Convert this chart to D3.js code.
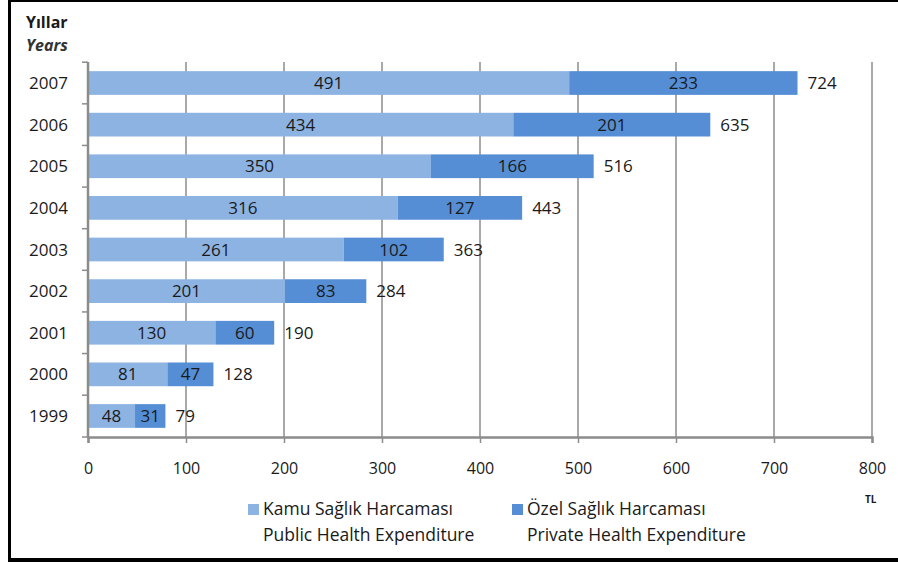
<!DOCTYPE html>
<html>
<head>
<meta charset="utf-8">
<script src="https://cdn.jsdelivr.net/npm/d3@7"></script>
<style>
  body { margin: 0; background: #fff; }
  svg { display: block; }
</style>
</head>
<body>
<svg id="chart" width="898" height="562"></svg>
<script>
// data
var years = ["2007", "2006", "2005", "2004", "2003", "2002", "2001", "2000", "1999"];
var publicExp = [491, 434, 350, 316, 261, 201, 130, 81, 48];
var privateExp = [233, 201, 166, 127, 102, 83, 60, 47, 31];
var totals = [724, 635, 516, 443, 363, 284, 190, 128, 79];
var xTicks = [0, 100, 200, 300, 400, 500, 600, 700, 800];
var seriesNames = [["Kamu Sağlık Harcaması", "Public Health Expenditure"],
                   ["Özel Sağlık Harcaması", "Private Health Expenditure"]];
var seriesColors = ["#8db3e2", "#558ed5"];

var font = "'Open Sans', 'Noto Sans', sans-serif";
var fs = 17;
var ink = "#1a1a1a";
var svg = d3.select("#chart");

// frame (left, top, bottom lines)
svg.append("rect").attr("x", 8).attr("y", 0).attr("width", 3).attr("height", 562).attr("fill", "#000");
svg.append("rect").attr("x", 8).attr("y", 0).attr("width", 890).attr("height", 2).attr("fill", "#000");
svg.append("rect").attr("x", 8).attr("y", 558).attr("width", 890).attr("height", 4).attr("fill", "#000");

var x = d3.scaleLinear().domain([0, 800]).range([88, 872]);
var y = d3.scaleBand().domain(years).range([62, 437]).paddingInner(0.43).paddingOuter(0.22);

// grid lines
svg.append("g").selectAll("line").data(xTicks.slice(1)).enter().append("line")
  .attr("x1", function(d) { return x(d); }).attr("x2", function(d) { return x(d); })
  .attr("y1", 62).attr("y2", 437)
  .attr("stroke", "#8c8c8c").attr("stroke-width", 1.5);

// bars
var rows = years.map(function(yr, i) {
  return { year: yr, pub: publicExp[i], priv: privateExp[i], total: totals[i] };
});
var g = svg.append("g").selectAll("g").data(rows).enter().append("g");
g.append("rect")
  .attr("x", x(0)).attr("y", function(d) { return y(d.year); })
  .attr("width", function(d) { return x(d.pub) - x(0); })
  .attr("height", y.bandwidth()).attr("fill", seriesColors[0]);
g.append("rect")
  .attr("x", function(d) { return x(d.pub); }).attr("y", function(d) { return y(d.year); })
  .attr("width", function(d) { return x(d.pub + d.priv) - x(d.pub); })
  .attr("height", y.bandwidth()).attr("fill", seriesColors[1]);

function label(sel, xf, txt, anchor) {
  sel.append("text")
    .attr("x", xf).attr("y", function(d) { return y(d.year) + y.bandwidth() / 2; })
    .attr("dy", "0.36em").attr("text-anchor", anchor)
    .attr("font-family", font).attr("font-size", fs).attr("fill", ink)
    .text(txt);
}
label(g, function(d) { return (x(0) + x(d.pub)) / 2; }, function(d) { return d.pub; }, "middle");
label(g, function(d) { return (x(d.pub) + x(d.pub + d.priv)) / 2; }, function(d) { return d.priv; }, "middle");
label(g, function(d) { return x(d.pub + d.priv) + 10; }, function(d) { return d.total; }, "start");

// y axis
var yAxis = svg.append("g").attr("transform", "translate(88,0)");
yAxis.append("line").attr("x1", 0).attr("x2", 0).attr("y1", 62).attr("y2", 437)
  .attr("stroke", "#8c8c8c").attr("stroke-width", 2.5);
var bounds = years.map(function(d) { return y(d) - y.step() * y.paddingInner() / 2; }).concat([437]);
yAxis.selectAll("line.tk").data(bounds).enter().append("line").attr("class", "tk")
  .attr("x1", -6).attr("x2", 0)
  .attr("y1", function(d) { return d; }).attr("y2", function(d) { return d; })
  .attr("stroke", "#8c8c8c").attr("stroke-width", 1.5);
yAxis.selectAll("text").data(years).enter().append("text")
  .attr("x", -20).attr("y", function(d) { return y(d) + y.bandwidth() / 2; })
  .attr("dy", "0.36em").attr("text-anchor", "end")
  .attr("font-family", font).attr("font-size", fs).attr("fill", ink)
  .text(function(d) { return d; });

// x axis
var xAxis = svg.append("g").attr("transform", "translate(0,437)")
  .call(d3.axisBottom(x).tickValues(xTicks).tickSize(6).tickPadding(20));
xAxis.select(".domain").attr("stroke", "#8c8c8c").attr("stroke-width", 2.5);
xAxis.selectAll(".tick line").attr("stroke", "#8c8c8c").attr("stroke-width", 1.5);
xAxis.selectAll("text").attr("font-family", font).attr("font-size", 16).attr("fill", ink);

// titles
svg.append("text").attr("x", 26).attr("y", 28).attr("font-family", font).attr("font-size", 16)
  .attr("font-weight", "bold").attr("fill", ink).text("Yıllar");
svg.append("text").attr("x", 26).attr("y", 51).attr("font-family", font).attr("font-size", 16)
  .attr("font-style", "italic").attr("font-weight", "bold").attr("fill", "#333").text("Years");
svg.append("text").attr("x", 865).attr("y", 503).attr("font-family", font).attr("font-size", 10)
  .attr("font-weight", "bold").attr("fill", ink).text("TL");

// legend
var legendX = [248, 512];
var lg = svg.append("g").selectAll("g").data(seriesNames).enter().append("g")
  .attr("transform", function(d, i) { return "translate(" + legendX[i] + ",0)"; });
lg.append("rect").attr("x", 0).attr("y", 504).attr("width", 11).attr("height", 11)
  .attr("fill", function(d, i) { return seriesColors[i]; });
lg.append("text").attr("x", 15).attr("y", 515).attr("font-family", font).attr("font-size", 17.5)
  .attr("fill", ink).text(function(d) { return d[0]; });
lg.append("text").attr("x", 15).attr("y", 541).attr("font-family", font).attr("font-size", 17.5)
  .attr("fill", ink).text(function(d) { return d[1]; });
</script>
</body>
</html>
